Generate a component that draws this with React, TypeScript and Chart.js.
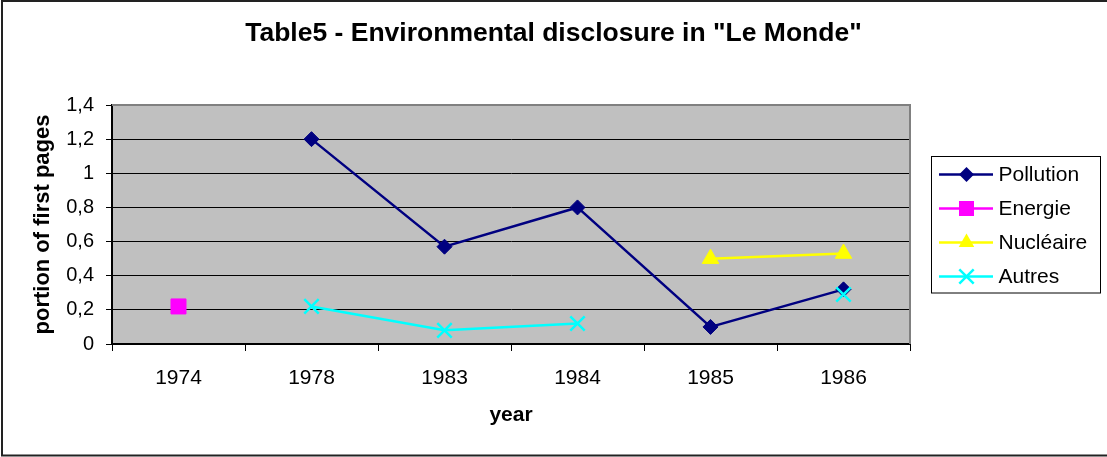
import React, { useEffect, useRef } from 'react';
import { Chart, registerables } from 'chart.js';

Chart.register(...registerables);

const categories = ['1974', '1978', '1983', '1984', '1985', '1986'];
const pollution = [null, 1.2, 0.57, 0.8, 0.1, 0.32];
const energie = [0.22, null, null, null, null, null];
const nucleaire = [null, null, null, null, 0.5, 0.53];
const autres = [null, 0.22, 0.08, 0.12, null, 0.29];
const seriesNames = ['Pollution', 'Energie', 'Nucléaire', 'Autres'];
const seriesColors = ['#000080', '#FF00FF', '#FFFF00', '#00FFFF'];
const seriesMarkers = ['rectRot', 'rect', 'triangle', 'crossRot'];
const titleText = 'Table5 - Environmental disclosure in "Le Monde"';
const yTitle = 'portion of first pages';
const xTitle = 'year';

const FONT = "'Liberation Sans', Arial, sans-serif";

function drawMarker(ctx: CanvasRenderingContext2D, style: string, x: number, y: number, color: string) {
  ctx.save();
  ctx.fillStyle = color;
  ctx.strokeStyle = color;
  ctx.beginPath();
  if (style === 'rectRot') {
    const r = 7.5;
    ctx.moveTo(x, y - r);
    ctx.lineTo(x + r, y);
    ctx.lineTo(x, y + r);
    ctx.lineTo(x - r, y);
    ctx.closePath();
    ctx.fill();
  } else if (style === 'rect') {
    const h = 7.5;
    ctx.rect(x - h, y - h, 2 * h, 2 * h);
    ctx.fill();
  } else if (style === 'triangle') {
    const r = 9;
    ctx.moveTo(x, y - r);
    ctx.lineTo(x + r * 0.866, y + r * 0.5);
    ctx.lineTo(x - r * 0.866, y + r * 0.5);
    ctx.closePath();
    ctx.fill();
  } else {
    const r = 7.2;
    ctx.lineWidth = 2.5;
    ctx.moveTo(x - r, y - r);
    ctx.lineTo(x + r, y + r);
    ctx.moveTo(x + r, y - r);
    ctx.lineTo(x - r, y + r);
    ctx.stroke();
  }
  ctx.restore();
}

const framePlugin = {
  id: 'frame',
  beforeDraw(chart: any) {
    const { ctx, chartArea: a } = chart;
    ctx.save();
    ctx.fillStyle = '#FFFFFF';
    ctx.fillRect(0, 0, chart.width, chart.height);
    ctx.fillStyle = '#C0C0C0';
    ctx.fillRect(a.left, a.top, a.right - a.left, a.bottom - a.top);
    ctx.restore();
  },
  beforeDatasetsDraw(chart: any) {
    const { ctx, chartArea: a } = chart;
    ctx.save();
    ctx.strokeStyle = '#808080';
    ctx.lineWidth = 2;
    ctx.beginPath();
    ctx.moveTo(a.left, a.top);
    ctx.lineTo(a.right, a.top);
    ctx.lineTo(a.right, a.bottom);
    ctx.stroke();
    ctx.restore();
  },
  afterDraw(chart: any) {
    const { ctx } = chart;
    ctx.save();
    // outer frame
    ctx.strokeStyle = '#222222';
    ctx.lineWidth = 2;
    ctx.beginPath();
    ctx.moveTo(chart.width + 2, 1);
    ctx.lineTo(2, 1);
    ctx.lineTo(2, 455.5);
    ctx.lineTo(chart.width + 2, 455.5);
    ctx.stroke();
    // chart title, centred on the whole chart
    ctx.fillStyle = '#000000';
    ctx.font = `bold 26.5px ${FONT}`;
    ctx.textAlign = 'center';
    ctx.textBaseline = 'middle';
    ctx.fillText(titleText, chart.width / 2, 33.5);
    // legend
    const lx = 931.5, ly = 156.5, lw = 169, lh = 136.5;
    ctx.strokeStyle = '#000000';
    ctx.lineWidth = 1;
    ctx.strokeRect(lx, ly, lw, lh);
    ctx.font = `21px ${FONT}`;
    ctx.textBaseline = 'middle';
    ctx.textAlign = 'left';
    seriesNames.forEach((name, i) => {
      const y = 174.5 + i * 34;
      ctx.strokeStyle = seriesColors[i];
      ctx.lineWidth = 2.5;
      ctx.beginPath();
      ctx.moveTo(939, y);
      ctx.lineTo(993, y);
      ctx.stroke();
      drawMarker(ctx, seriesMarkers[i], 966.5, y, seriesColors[i]);
      ctx.fillStyle = '#000000';
      ctx.fillText(name, 998.5, y + 1);
    });
    ctx.restore();
  },
};

export default function App() {
  const ref = useRef<HTMLCanvasElement | null>(null);
  useEffect(() => {
    if (!ref.current) return;
    Chart.defaults.font.family = FONT;
    Chart.defaults.color = '#000000';
    const seriesData = [pollution, energie, nucleaire, autres];
    const radii = [7.5, 10.6, 9.5, 10.2];
    const chart = new Chart(ref.current, {
      type: 'line',
      data: {
        labels: categories,
        datasets: seriesData.map((d, i) => ({
          label: seriesNames[i],
          data: d,
          borderColor: seriesColors[i],
          backgroundColor: seriesColors[i],
          borderWidth: 2.5,
          pointStyle: seriesMarkers[i] as any,
          pointRadius: radii[i],
          pointHoverRadius: radii[i],
          pointBorderWidth: i === 3 ? 2.5 : 1,
          pointBorderColor: seriesColors[i],
          pointBackgroundColor: seriesColors[i],
          spanGaps: false,
          tension: 0,
          order: 4 - i,
        })),
      },
      options: {
        animation: false,
        responsive: false,
        events: [],
        layout: { padding: { top: 105, left: 0, right: 197, bottom: 0 } },
        plugins: {
          legend: { display: false },
          tooltip: { enabled: false },
          title: { display: false },
        },
        scales: {
          x: {
            type: 'category',
            offset: true,
            grid: {
              display: true,
              drawOnChartArea: false,
              drawTicks: true,
              tickLength: 7,
              color: '#000000',
              offset: true,
            },
            border: { color: '#000000', width: 2 },
            ticks: { font: { size: 21, family: FONT }, padding: 15, maxRotation: 0, color: '#000000' },
            title: {
              display: true,
              text: xTitle,
              color: '#000000',
              font: { size: 21, weight: 'bold', family: FONT },
              padding: { top: 0, bottom: 29 },
            },
            afterFit: (s: any) => {
              s.height = 113;
            },
          },
          y: {
            min: 0,
            max: 1.4,
            ticks: {
              stepSize: 0.2,
              font: { size: 20, family: FONT },
              padding: 12,
              color: '#000000',
              callback: (v: any) => (Math.round(Number(v) * 10) / 10).toString().replace('.', ','),
            },
            grid: { color: '#000000', lineWidth: 1, tickLength: 6, drawTicks: true },
            border: { color: '#000000', width: 2 },
            title: {
              display: true,
              text: yTitle,
              color: '#000000',
              font: { size: 22, weight: 'bold', family: FONT },
              padding: { top: 30, bottom: 0 },
            },
            afterFit: (s: any) => {
              s.width = 112;
            },
          },
        },
      },
      plugins: [framePlugin],
    });
    return () => chart.destroy();
  }, []);
  return (
    <div style={{ position: 'absolute', left: 0, top: 0, width: 1107, height: 457, background: '#fff' }}>
      <canvas ref={ref} width={1107} height={457} style={{ display: 'block' }} />
    </div>
  );
}
